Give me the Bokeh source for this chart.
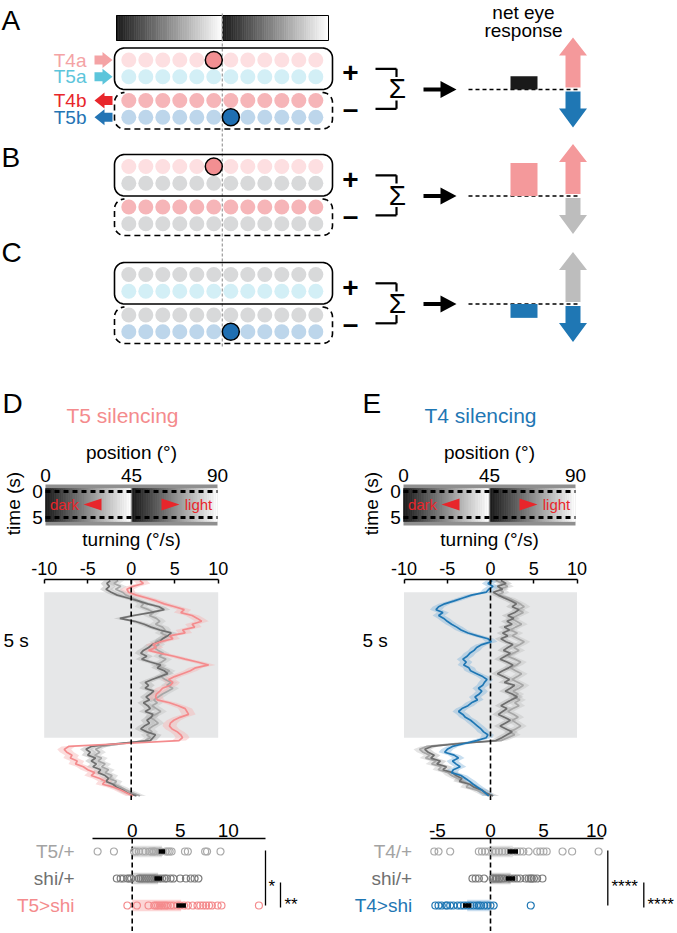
import numpy as np
from bokeh.plotting import figure
from bokeh.models import Range1d, LinearAxis, FixedTicker, NumeralTickFormatter
from bokeh.layouts import column, row
from bokeh.core.properties import value
from bokeh.embed import file_html
from bokeh.resources import INLINE

FONT = "Liberation Sans"

# ============================ DATA ============================
# --- schematic (panels A-C) ---
schem_panels = ["A", "B", "C"]
neuron_labels = ["T4a", "T5a", "T4b", "T5b"]
net_response = [0.4, 1.0, -0.42]          # net eye response, arbitrary units

# --- stimulus header ---
stim_pos_ticks = [0, 45, 90]               # position (deg)
stim_time_ticks = [0, 5]                   # time (s)
stim_duration = 5                          # s

# --- turning traces (deg/s), time in s ---
trace_time = [round(-0.4 + 0.1 * i, 1) for i in range(75)]
trace_ticks = [-10, -5, 0, 5, 10]

d_T5_plus_trace = [-1.5, -2.0, -1.2, -1.8, -1.0,
                   -0.6, 0.2, 0.9, 1.4, 1.1, 2.0, 2.6, 2.1, 2.9, 3.3,
                   2.8, 3.6, 3.9, 3.4, 4.1, 3.6, 2.8, 3.2, 2.6, 3.1,
                   3.7, 3.2, 4.0, 3.5, 2.9, 3.6, 4.4, 3.9, 3.4, 3.9,
                   4.6, 4.1, 4.8, 4.2, 3.6, 3.1, 2.6, 3.0, 2.4, 2.9,
                   3.4, 2.8, 2.2, 2.7, 3.1, 2.5, 2.0, 2.4, 1.8, 2.2,
                   1.6, -0.8, -3.4, -4.1, -3.6, -4.2, -3.4, -3.8, -3.0, -3.4,
                   -2.6, -3.0, -2.2, -2.5, -1.7, -2.0, -1.2, -0.6, 0.2, 1.0]
d_shi_plus_trace = [-2.4, -2.8, -2.5, -2.9, -2.3,
                    -1.6, -0.4, 0.8, 1.9, 3.2, 3.8, 2.2, 0.3, -1.3, 0.4,
                    1.5, 2.3, 3.3, 4.6, 4.2, 3.6, 3.3, 2.4, 2.0, 1.4,
                    1.1, 1.8, 1.2, 2.2, 3.4, 3.0, 3.8, 4.2, 3.3, 2.4,
                    1.6, 2.0, 1.6, 2.6, 2.2, 1.7, 2.1, 1.4, 1.9, 2.2,
                    1.6, 2.5, 2.3, 1.8, 2.1, 1.5, 1.1, 1.8, 2.8, 2.5,
                    2.2, -1.5, -4.6, -5.2, -4.7, -5.0, -4.1, -4.6, -4.0, -4.4,
                    -3.5, -3.8, -3.0, -2.6, -2.9, -2.1, -1.7, -1.0, -0.4, 0.6]
d_T5_shi_trace = [1.0, 1.4, 0.2, -0.5, -0.3,
                  0.6, 1.8, 2.9, 3.8, 5.0, 6.1, 5.7, 7.0, 7.6, 8.1,
                  7.0, 7.3, 5.9, 6.2, 4.4, 4.8, 3.4, 2.5, 2.9, 2.0,
                  3.4, 4.9, 6.2, 7.6, 8.9, 7.4, 6.8, 5.9, 5.0, 4.3,
                  4.8, 4.5, 3.6, 3.3, 2.9, 2.8, 3.0, 4.4, 5.4, 6.2,
                  6.4, 6.6, 5.6, 4.9, 4.5, 4.4, 4.7, 5.3, 5.7, 5.9,
                  5.5, -0.8, -7.2, -7.7, -7.4, -6.8, -7.0, -6.2, -6.4, -5.5,
                  -5.0, -4.2, -4.6, -3.6, -3.0, -3.3, -2.0, -1.2, -0.5, 0.2]
d_trace_sem = [0.7, 0.7, 0.8]

e_T4_plus_trace = [0.6, 1.4, 2.0, 1.0, 1.5,
                   0.9, 2.1, 2.8, 3.4, 3.9, 3.2, 3.8, 3.1, 2.4, 3.0,
                   3.6, 2.9, 2.3, 3.1, 2.5, 3.2, 3.9, 3.4, 2.7, 3.3,
                   2.6, 2.0, 2.8, 3.5, 3.0, 2.3, 2.9, 3.6, 3.1, 2.5,
                   3.2, 3.8, 3.3, 2.6, 3.2, 2.7, 3.4, 2.8, 3.3, 2.6,
                   2.0, 2.7, 3.2, 2.5, 3.0, 3.5, 2.9, 2.2, 2.8, 2.0,
                   1.2, -4.0, -7.4, -8.2, -7.8, -7.0, -7.5, -6.3, -6.8, -5.7,
                   -6.0, -4.9, -4.5, -3.8, -3.1, -2.5, -2.8, -1.6, -0.9, -0.2]
e_shi_plus_trace = [1.2, 1.8, 0.8, 1.4, 0.3,
                    0.9, 1.6, 2.4, 3.0, 2.5, 3.3, 2.8, 2.0, 2.7, 1.9,
                    2.5, 1.6, 2.2, 1.4, 2.0, 1.2, 1.8, 2.6, 2.0, 1.5,
                    2.3, 1.7, 1.1, 1.9, 2.6, 2.1, 1.4, 0.8, 1.5, 2.2,
                    1.6, 2.8, 2.3, 1.7, 2.5, 3.1, 2.4, 1.8, 1.2, 1.9,
                    1.4, 0.9, 1.6, 2.3, 1.7, 1.1, 1.8, 2.5, 1.9, 1.3,
                    0.6, -3.5, -6.8, -7.6, -7.2, -6.5, -6.9, -5.8, -6.2, -5.1,
                    -5.5, -4.4, -4.0, -3.3, -3.6, -2.4, -1.9, -1.0, -0.5, 0.3]
e_T4_shi_trace = [0.2, -0.3, 0.3, -0.2, -0.5,
                  -2.2, -3.2, -4.2, -5.3, -6.0, -6.3, -5.5, -6.0, -5.4, -5.0,
                  -4.5, -3.9, -3.4, -2.6, -1.5, -0.3, 0.1, -1.0, -1.6, -1.9,
                  -2.4, -2.7, -3.2, -2.8, -3.1, -2.5, -2.3, -1.6, -0.9, -0.4,
                  -0.7, -0.9, -1.4, -1.0, -1.3, -1.8, -1.5, -2.2, -2.6, -3.3,
                  -3.7, -3.2, -2.9, -2.3, -1.9, -1.5, -1.1, -0.8, -0.3, -0.5,
                  -1.6, -3.0, -4.4, -5.0, -5.3, -4.2, -3.7, -4.4, -4.0, -3.5,
                  -4.3, -4.5, -3.4, -2.9, -2.4, -2.0, -1.5, -1.0, -0.6, -0.2]
e_trace_sem = [0.7, 0.7, 0.7]

# --- per-fly mean turning (deg/s) ---
d_groups = ["T5/+", "shi/+", "T5>shi"]
d_T5_plus_dots = [-3.6, -1.9, 0.2, 0.4, 0.7, 1.1, 1.4, 1.8, 2.0, 2.2, 2.3, 2.5,
                  2.8, 3.0, 3.5, 3.7, 3.9, 4.1, 5.5, 5.8, 7.6, 7.8, 9.2]
d_shi_plus_dots = [-1.6, -1.2, -0.9, -0.5, -0.3, -0.1, 0.7, 0.9, 1.1, 1.3, 1.5, 1.7,
                   1.9, 2.1, 2.3, 2.5, 2.8, 3.1, 3.4, 3.6, 4.0, 4.3, 5.0, 5.6, 6.1, 6.5, 6.9]
d_T5_shi_dots = [-0.5, 0.5, 1.7, 2.3, 2.5, 2.7, 2.9, 3.1, 3.3, 3.5, 3.7, 4.0, 4.3,
                 4.7, 5.0, 5.4, 5.8, 6.3, 6.8, 7.1, 7.4, 7.7, 8.0, 8.3, 8.9, 9.3, 13.2]
d_means = [3.1, 2.7, 5.1]
d_sems = [0.35, 0.4, 0.5]
d_dot_ticks = [0, 5, 10]

e_groups = ["T4/+", "shi/+", "T4>shi"]
e_T4_plus_dots = [-5.3, -4.9, -3.8, -1.1, -0.8, -0.5, -0.2, 0.2, 0.5, 0.8, 1.1, 1.4,
                  1.7, 2.2, 2.5, 2.8, 3.1, 3.6, 4.4, 4.7, 5.0, 5.3, 6.8, 7.7, 10.2]
e_shi_plus_dots = [-1.7, -1.4, -1.1, -0.6, 0.2, 0.3, 0.5, 0.6, 0.8, 0.9, 1.1, 1.3,
                   1.6, 1.9, 2.2, 2.5, 2.8, 3.3, 3.6, 3.8, 3.9, 4.1, 4.4, 4.9]
e_T4_shi_dots = [-5.2, -4.9, -4.6, -4.2, -4.1, -3.8, -3.5, -3.1, -2.8, -2.5, -2.2,
                 -1.9, -1.6, -1.3, -1.1, -0.9, -0.6, -0.3, 0.0, 0.3, 3.8]
e_means = [2.1, 1.9, -2.2]
e_sems = [0.5, 0.45, 0.4]
e_dot_ticks = [-5, 0, 5, 10]

d_signif = ["*", "**"]
e_signif = ["****", "****"]

# ============================ STYLE ============================
PINK = "#f48b8d"
BLUE = "#1f77b4"
LGRAY = "#a7a7a7"
DGRAY = "#6e6e6e"
RED = "#e8262b"

W_TOTAL, H_TOP, H_TRACE, H_DOT = 677, 550, 250, 131
W_D = 339
W_E = W_TOTAL - W_D


def fig(w, h, xr, yr, top=0):
    p = figure(width=w, height=h, x_range=xr, y_range=yr, output_backend="svg",
               toolbar_location=None, tools="", x_axis_location=None, y_axis_location=None,
               min_border=0, min_border_left=0, min_border_right=0,
               min_border_bottom=0, min_border_top=top)
    p.grid.visible = False
    p.outline_line_color = None
    p.background_fill_color = "white"
    p.border_fill_color = "white"
    return p


def txt(p, x, y, s, size, color="black", align="center", baseline="middle",
        style="normal", angle=0.0):
    p.text(x=[x], y=[y], text=[s], text_font=value(FONT),
           text_font_size=value(f"{size}px"), text_color=color, text_align=align,
           text_baseline=baseline, text_font_style=style, angle=angle)


def gradient(p, x0, x1, y0, y1, n=48, c0=(26, 26, 26), c1=(255, 255, 255)):
    edges = np.linspace(x0, x1, n + 1)
    cols = []
    for i in range(n):
        f = (i + 0.5) / n
        c = tuple(int(round(c0[k] + (c1[k] - c0[k]) * f)) for k in range(3))
        cols.append("#%02x%02x%02x" % c)
    p.quad(left=edges[:-1], right=edges[1:], top=[y0] * n, bottom=[y1] * n,
           fill_color=cols, line_color=cols, line_width=0.6)


def rounded_path(x0, x1, y0, y1, r, open_top=False):
    def arc(cx, cy, a0, a1):
        a = np.linspace(a0, a1, 10)
        return list(cx + r * np.cos(a)), list(cy + r * np.sin(a))
    segs = [arc(x1 - r, y0 + r, 1.5 * np.pi, 2 * np.pi),
            arc(x1 - r, y1 - r, 0, 0.5 * np.pi),
            arc(x0 + r, y1 - r, 0.5 * np.pi, np.pi),
            arc(x0 + r, y0 + r, np.pi, 1.5 * np.pi)]
    xs, ys = [], []
    for sx, sy in segs:
        xs += sx
        ys += sy
    if not open_top:
        xs.append(segs[0][0][0])
        ys.append(segs[0][1][0])
    return xs, ys


# ============================ TOP FIGURE (A-C + stimulus headers) ============================
top = fig(W_TOTAL, H_TOP, Range1d(0, W_TOTAL), Range1d(H_TOP, 0))

col_x = 128.3 + 17.0 * np.arange(12)
row_off = [0, 16.7, 40.5, 57.2]
panel_r1 = [59.5, 166.0, 274.0]
panel_letter_y = [20, 157, 252]
LPINK, LCYAN, MPINK, LBLUE, GRY = "#fddfe1", "#d3eff6", "#f6b5b8", "#bdd6eb", "#d8d9da"
row_cols = [[LPINK, LCYAN, MPINK, LBLUE],
            [LPINK, GRY, MPINK, GRY],
            [GRY, LCYAN, GRY, LBLUE]]
big_circles = [[(5, 0, "#f28f92"), (6, 3, "#1f6fb2")],
               [(5, 0, "#f28f92")],
               [(6, 3, "#1f6fb2")]]
net_cols = ["#1a1a1a", "#f4999b", BLUE]
up_cols = ["#f4999b", "#f4999b", "#bdbdbd"]
down_cols = [BLUE, "#bdbdbd", BLUE]

# top gradient bar
gradient(top, 116, 221.8, 15, 40)
gradient(top, 221.8, 328, 15, 40)
top.quad(left=[116], right=[328], top=[15], bottom=[40], fill_color=None,
         line_color="black", line_width=1)
top.segment(x0=[221.8], y0=[13], x1=[221.8], y1=[346], line_color="#9a9a9a",
            line_width=1.2, line_dash="3 2")

for k, r1 in enumerate(panel_r1):
    txt(top, 1, panel_letter_y[k], schem_panels[k], 28, align="left")
    for j, off in enumerate(row_off):
        top.scatter(x=col_x, y=[r1 + off] * 12, size=15, marker="circle",
                    fill_color=row_cols[k][j], line_color=None)
    for (ci, rj, cc) in big_circles[k]:
        top.scatter(x=[col_x[ci]], y=[r1 + row_off[rj]], size=17, marker="circle",
                    fill_color=cc, line_color="black", line_width=1.5)
    xs, ys = rounded_path(114, 332, r1 - 12, r1 + 29.5, 10)
    top.line(xs, ys, line_color="black", line_width=1.6)
    xs, ys = rounded_path(114, 332, r1 + 32.5, r1 + 69, 10, open_top=True)
    top.line(xs, ys, line_color="black", line_width=1.6, line_dash="6 4")

    # +/- and sum bracket
    txt(top, 350, r1 + 12.5, "+", 28, style="bold")
    txt(top, 350, r1 + 48.5, "–", 28, style="bold")
    top.segment(x0=[375, 396, 375, 396], y0=[r1 + 8.8, r1 + 8.8, r1 + 48.8, r1 + 48.8],
                x1=[396, 396, 396, 396], y1=[r1 + 8.8, r1 + 17, r1 + 48.8, r1 + 40.5],
                line_color="black", line_width=2.2)
    line_y = r1 + 29.5
    txt(top, 397, line_y - 1, "Σ", 28)
    # black arrow
    top.patch(x=[423, 440, 440, 456, 440, 440, 423],
              y=[line_y - 2, line_y - 2, line_y - 8.5, line_y, line_y + 8.5, line_y + 2, line_y + 2],
              fill_color="black", line_color=None)
    top.segment(x0=[468], y0=[line_y], x1=[580], y1=[line_y], line_color="black",
                line_width=1.5, line_dash="4 3")
    # net response bar
    top.vbar(x=[523.5], width=27, bottom=[line_y], top=[line_y - net_response[k] * 33],
             fill_color=net_cols[k], line_color=None)
    # up / down arrows
    cx = 572.5
    top.patch(x=[cx - 7.5, cx - 7.5, cx - 14, cx, cx + 14, cx + 7.5, cx + 7.5],
              y=[line_y - 2, line_y - 34, line_y - 34, line_y - 52, line_y - 34, line_y - 34, line_y - 2],
              fill_color=up_cols[k], line_color=None)
    top.patch(x=[cx - 7.5, cx - 7.5, cx - 14, cx, cx + 14, cx + 7.5, cx + 7.5],
              y=[line_y + 2, line_y + 19, line_y + 19, line_y + 38, line_y + 19, line_y + 19, line_y + 2],
              fill_color=down_cols[k], line_color=None)

txt(top, 523, 12, "net eye", 19)
txt(top, 523, 30, "response", 19)

# neuron labels + direction arrows (panel A)
lab_cols = ["#f4a3a5", "#5cc5db", RED, "#2374b4"]
for j, off in enumerate(row_off):
    yy = panel_r1[0] + off
    txt(top, 86, yy, neuron_labels[j], 19, color=lab_cols[j], align="right")
    if j < 2:
        ax_ = [94, 102, 102, 112, 102, 102, 94]
    else:
        ax_ = [112, 104, 104, 94, 104, 104, 112]
    top.patch(x=ax_, y=[yy - 4.5, yy - 4.5, yy - 8, yy, yy + 8, yy + 4.5, yy + 4.5],
              fill_color=lab_cols[j], line_color=None)

# stimulus headers for D and E
headers = [("D", 2, 45, "T5 silencing", PINK), ("E", 362, 403, "T4 silencing", BLUE)]
for letter, lx, x0, title, tcol in headers:
    bw = 172
    txt(top, lx, 403, letter, 28, align="left")
    txt(top, x0 + 77, 415, title, 21, color=tcol)
    txt(top, x0 + 86, 452, "position (°)", 19)
    for tk in stim_pos_ticks:
        txt(top, x0 + tk / 90 * bw, 475, str(tk), 19)
    top.quad(left=[x0], right=[x0 + bw], top=[484], bottom=[525], fill_color="#8f8f8f",
             line_color=None)
    gradient(top, x0, x0 + 85, 488, 521)
    gradient(top, x0 + 87, x0 + bw, 488, 521)
    for yy in (491, 517):
        top.segment(x0=[x0], y0=[yy], x1=[x0 + bw], y1=[yy], line_color="black",
                    line_width=3, line_dash="5 4")
    txt(top, x0 + 19, 504, "dark", 15, color=RED)
    txt(top, x0 + 153, 504, "light", 15, color=RED)
    top.patch(x=[x0 + 38, x0 + 56, x0 + 56], y=[504, 498, 510], fill_color=RED, line_color=None)
    top.patch(x=[x0 + 134, x0 + 116, x0 + 116], y=[504, 498, 510], fill_color=RED, line_color=None)
    txt(top, x0 - 32, 503, "time (s)", 19, angle=np.pi / 2)
    for tk in stim_time_ticks:
        txt(top, x0 - 8, 491 + tk / stim_duration * 26, str(tk), 19)
    txt(top, x0 + 86, 539, "turning (°/s)", 19)

# ============================ TRACE PANELS ============================
T0_PX, PX_PER_S = 591.7, 29.1
TRACE_Y0 = H_TOP
T_TOP = (579 - T0_PX) / PX_PER_S
T_BOT = (TRACE_Y0 + H_TRACE - T0_PX) / PX_PER_S


def trace_panel(w, page_x0, zero_px, ppu, series, sems, cols, band_cols, five_s_page_x):
    xr = Range1d((page_x0 - zero_px) / ppu, (page_x0 + w - zero_px) / ppu)
    yr = Range1d(T_BOT, T_TOP)
    p = fig(w, H_TRACE, xr, yr, top=579 - TRACE_Y0)
    p.quad(left=[trace_ticks[0]], right=[trace_ticks[-1]], top=[0], bottom=[stim_duration],
           fill_color="#e6e7e8", line_color=None)
    for s, sem, bc in zip(series, sems, band_cols):
        arr = np.array(s)
        p.harea(x1=arr - sem, x2=arr + sem, y=trace_time, fill_color=bc, fill_alpha=0.45)
    for s, c in zip(series, cols):
        p.line(x=s, y=trace_time, line_color=c, line_width=1.7)
    p.segment(x0=[0], y0=[T_TOP], x1=[0], y1=[T_BOT], line_color="black", line_width=1.6,
              line_dash="5 3")
    txt(p, (five_s_page_x - zero_px) / ppu, (640 - T0_PX) / PX_PER_S, "5 s", 19, align="left")
    ax = LinearAxis(ticker=FixedTicker(ticks=trace_ticks), formatter=NumeralTickFormatter(format="0"),
                    bounds=(trace_ticks[0], trace_ticks[-1]), axis_line_width=1.5,
                    major_tick_in=4, major_tick_out=0, major_tick_line_width=1.5,
                    minor_tick_in=0, minor_tick_out=0, minor_tick_line_color=None,
                    major_label_standoff=5, major_label_text_font=FONT,
                    major_label_text_font_size="18px", major_label_text_color="black")
    p.add_layout(ax, "above")
    return p


d_trace = trace_panel(W_D, 0, 130.7, 8.7,
                      [d_T5_plus_trace, d_shi_plus_trace, d_T5_shi_trace], d_trace_sem,
                      [LGRAY, DGRAY, PINK], ["#c4c4c4", "#b0b0b0", "#f7b3b3"], 3)
e_trace = trace_panel(W_E, W_D, 490, 8.65,
                      [e_T4_plus_trace, e_shi_plus_trace, e_T4_shi_trace], e_trace_sem,
                      [LGRAY, DGRAY, BLUE], ["#c4c4c4", "#b0b0b0", "#86b6dc"], 362)

# ============================ DOT PANELS ============================
R0_PX, PX_PER_ROW = 851, 27
DOT_Y0 = H_TOP + H_TRACE
R_TOP = (838 - R0_PX) / PX_PER_ROW
R_BOT = (DOT_Y0 + H_DOT - R0_PX) / PX_PER_ROW


def dot_panel(w, page_x0, zero_px, ppu, groups, dots, means, sems, ticks, bounds,
              lab_cols, dot_cols, bar_cols, label_page_x, sig, sig_page):
    xr = Range1d((page_x0 - zero_px) / ppu, (page_x0 + w - zero_px) / ppu)
    yr = Range1d(R_BOT, R_TOP)
    p = fig(w, H_DOT, xr, yr, top=838 - DOT_Y0)
    rows = list(range(len(groups)))
    p.hbar(y=rows, left=[0] * len(rows), right=means, height=0.42, fill_color=bar_cols,
           line_color=None)
    p.segment(x0=[0], y0=[R_TOP], x1=[0], y1=[R_BOT], line_color="black", line_width=1.6,
              line_dash="5 3")
    for r, vals, c in zip(rows, dots, dot_cols):
        p.scatter(x=vals, y=[r] * len(vals), size=7, marker="circle", fill_color=None,
                  line_color=c, line_width=1.2)
    p.hbar(y=rows, left=[m - s for m, s in zip(means, sems)],
           right=[m + s for m, s in zip(means, sems)], height=0.16, fill_color="black",
           line_color=None)
    for r, g, c in zip(rows, groups, lab_cols):
        txt(p, (label_page_x - zero_px) / ppu, r, g, 19, color=c, align="right")
    # significance brackets
    l1, l2, s1x, s2x, ssize = sig_page
    p.segment(x0=[(l1 - zero_px) / ppu, (l2 - zero_px) / ppu], y0=[-0.04, 1.15],
              x1=[(l1 - zero_px) / ppu, (l2 - zero_px) / ppu], y1=[2.0, 2.07],
              line_color="black", line_width=1.3)
    txt(p, (s1x - zero_px) / ppu, 1.3, sig[0], ssize, align="left", baseline="alphabetic")
    txt(p, (s2x - zero_px) / ppu, 1.96, sig[1], ssize, align="left", baseline="alphabetic")
    ax = LinearAxis(ticker=FixedTicker(ticks=ticks), formatter=NumeralTickFormatter(format="0"),
                    bounds=bounds, axis_line_width=1.5, major_tick_in=0, major_tick_out=0,
                    minor_tick_in=0, minor_tick_out=0, minor_tick_line_color=None,
                    major_tick_line_color=None,
                    major_label_standoff=2, major_label_text_font=FONT,
                    major_label_text_font_size="19px", major_label_text_color="black")
    p.add_layout(ax, "above")
    return p


d_dot = dot_panel(W_D, 0, 131.7, 9.6, d_groups,
                  [d_T5_plus_dots, d_shi_plus_dots, d_T5_shi_dots], d_means, d_sems,
                  d_dot_ticks, (-4.1, 13.9),
                  ["#a3a3a3", "#707070", PINK], ["#a9a9a9", "#7a7a7a", PINK],
                  ["#e2e2e2", "#d2d2d2", "#fcd6d6"], 74, d_signif,
                  (265, 280, 268, 284, 17))
e_dot = dot_panel(W_E, W_D, 490, 10.6, e_groups,
                  [e_T4_plus_dots, e_shi_plus_dots, e_T4_shi_dots], e_means, e_sems,
                  e_dot_ticks, (-5.66, 10.66),
                  ["#a3a3a3", "#707070", BLUE], ["#a9a9a9", "#7a7a7a", BLUE],
                  ["#e2e2e2", "#d2d2d2", "#c9ddef"], 411.7, e_signif,
                  (607.3, 643.3, 611, 647, 17))

layout = column(top, row(d_trace, e_trace), row(d_dot, e_dot))

with open("out.html", "w") as f:
    f.write(file_html(layout, INLINE))
